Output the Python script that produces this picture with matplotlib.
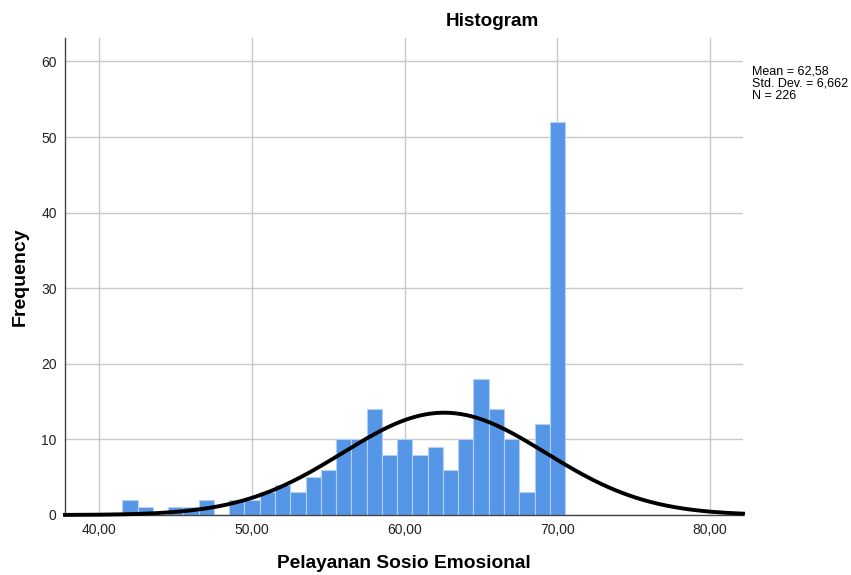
import numpy as np
import matplotlib
matplotlib.use("Agg")
import matplotlib.pyplot as plt

plt.rcParams['font.family'] = ['Liberation Sans', 'DejaVu Sans']

# Data (value -> frequency)
values = [42, 43, 44, 45, 46, 47, 48, 49, 50, 51, 52, 53, 54, 55, 56, 57, 58,
          59, 60, 61, 62, 63, 64, 65, 66, 67, 68, 69, 70]
counts = [2, 1, 0, 1, 1, 2, 0, 2, 2, 3, 4, 3, 5, 6, 10, 10, 14,
          8, 10, 8, 9, 6, 10, 18, 14, 10, 3, 12, 52]
mean = 62.58
std = 6.662
n = 226
bin_width = 1.0
xticks = [40, 50, 60, 70, 80]
xtick_labels = ["40,00", "50,00", "60,00", "70,00", "80,00"]
yticks = [0, 10, 20, 30, 40, 50, 60]

fig = plt.figure(figsize=(8.51, 5.75), dpi=100)
ax = fig.add_axes([65/851, 1 - 515/575, (743-65)/851, (515-38)/575])

ax.set_xlim(37.75, 82.15)
ax.set_ylim(0, 63.1)
ax.set_axisbelow(True)
ax.grid(True, color='#c8c8c8', linewidth=1.0)

ax.bar(values, counts, width=bin_width, color='#5596e6', edgecolor='#b5d0f2',
       linewidth=0.8, zorder=2)

xs = np.linspace(37.75, 82.15, 400)
ys = n * bin_width / (std * np.sqrt(2 * np.pi)) * np.exp(-0.5 * ((xs - mean) / std) ** 2)
ax.plot(xs, ys, color='black', linewidth=2.8, zorder=3, clip_on=False)

ax.set_xticks(xticks)
ax.set_xticklabels(xtick_labels)
ax.set_yticks(yticks)
ax.tick_params(axis='both', length=0, labelsize=10, colors='#222222', pad=6)

for s in ['top', 'right']:
    ax.spines[s].set_visible(False)
for s in ['left', 'bottom']:
    ax.spines[s].set_color('#444444')
    ax.spines[s].set_linewidth(1.0)

ax.set_xlabel("Pelayanan Sosio Emosional", fontsize=13.8, fontweight='bold', labelpad=13)
ax.set_ylabel("Frequency", fontsize=14, fontweight='bold', labelpad=9)
fig.text(492/851, 1 - 22/575, "Histogram", fontsize=13.6, fontweight='bold',
         ha='center', va='center')

fig.text(752/851, 1 - 65/575, "Mean = 62,58\nStd. Dev. = 6,662\nN = 226",
         fontsize=9, ha='left', va='top', linespacing=1.05)

fig.savefig("out.png", dpi=100)
